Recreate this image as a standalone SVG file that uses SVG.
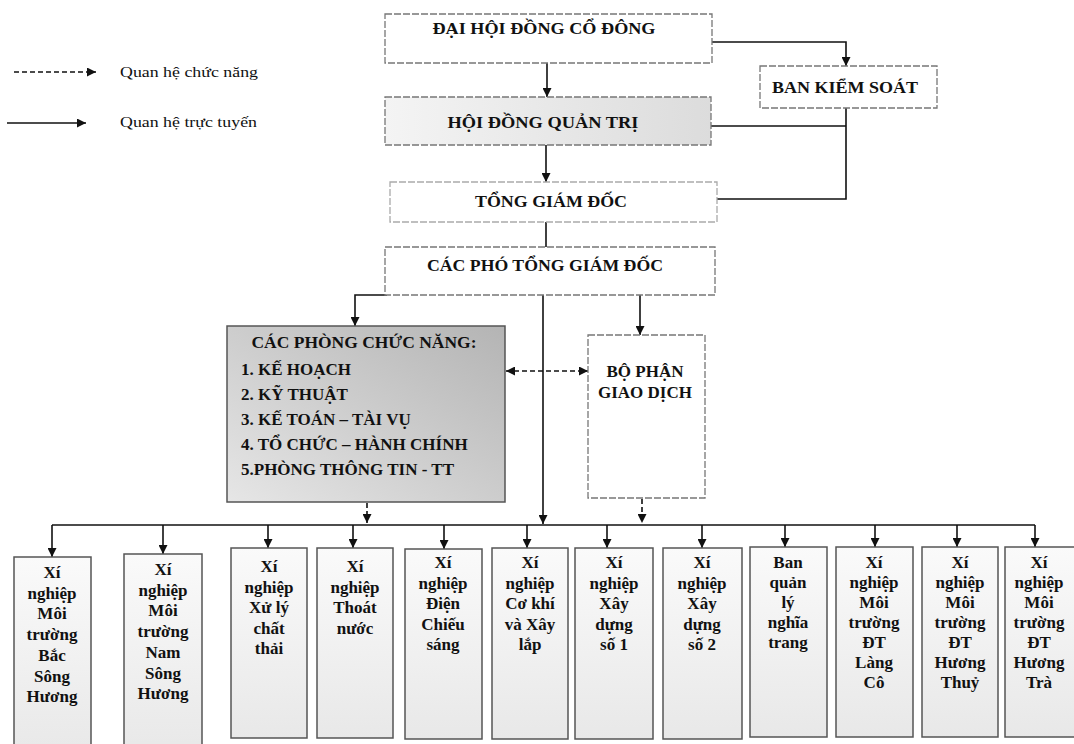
<svg xmlns="http://www.w3.org/2000/svg" width="1074" height="744" viewBox="0 0 1074 744">
<defs>
<marker id="ah" viewBox="0 0 10 10" refX="10" refY="5" markerWidth="9" markerHeight="9" markerUnits="userSpaceOnUse" orient="auto"><path d="M0 0 L10 5 L0 10 z" fill="#111"/></marker>
<marker id="ahs" viewBox="0 0 10 10" refX="0" refY="5" markerWidth="9" markerHeight="9" markerUnits="userSpaceOnUse" orient="auto"><path d="M10 0 L0 5 L10 10 z" fill="#111"/></marker>
<linearGradient id="gq" x1="0" y1="0" x2="1" y2="0"><stop offset="0" stop-color="#f4f4f4"/><stop offset="1" stop-color="#dcdcdc"/></linearGradient>
<linearGradient id="gp" x1="0" y1="1" x2="1" y2="0"><stop offset="0" stop-color="#e6e6e6"/><stop offset="1" stop-color="#b4b4b4"/></linearGradient>
<linearGradient id="gb" x1="0" y1="0" x2="0" y2="1"><stop offset="0" stop-color="#fafafa"/><stop offset="1" stop-color="#e8e8e8"/></linearGradient>
</defs>
<style>
.box{fill:#fff;stroke:#777;stroke-width:1.3;stroke-dasharray:7 2}
.bb{fill:url(#gb);stroke:#555;stroke-width:1.5}
.t{font-family:"Liberation Serif","Times New Roman",serif;font-weight:bold;fill:#111}
.h{font-size:17px;text-anchor:middle}
.s{font-size:17px;text-anchor:middle}
.lg{font-family:"Liberation Serif","Times New Roman",serif;font-size:15px;fill:#111}
.c{fill:none;stroke:#111;stroke-width:1.6}
.d{fill:none;stroke:#111;stroke-width:1.6;stroke-dasharray:5 3}
</style>
<rect width="1074" height="744" fill="#fff"/>
<g id="legend">
<line class="d" x1="14" y1="72" x2="96" y2="72" marker-end="url(#ah)"/>
<text class="lg" x="120" y="77" textLength="138" lengthAdjust="spacingAndGlyphs">Quan hệ chức năng</text>
<line class="c" x1="7" y1="123" x2="86" y2="123" marker-end="url(#ah)"/>
<text class="lg" x="120" y="127" textLength="137" lengthAdjust="spacingAndGlyphs">Quan hệ trực tuyến</text>
</g>
<g id="connectors">
<line class="c" x1="547" y1="63" x2="547" y2="97" marker-end="url(#ah)"/>
<path class="c" d="M712 42 H846 V66" marker-end="url(#ah)"/>
<line class="c" x1="546" y1="145" x2="546" y2="182" marker-end="url(#ah)"/>
<path class="c" d="M711 126 H846"/>
<path class="c" d="M846 108 V199 H717"/>
<line class="c" x1="546" y1="222" x2="546" y2="247"/>
<path class="c" d="M387 295 H355 V326" marker-end="url(#ah)"/>
<line class="c" x1="543" y1="295" x2="543" y2="524" marker-end="url(#ah)"/>
<line class="c" x1="640" y1="295" x2="640" y2="335" marker-end="url(#ah)"/>
<line class="d" x1="506" y1="371" x2="588" y2="371" marker-start="url(#ahs)" marker-end="url(#ah)"/>
<line class="d" x1="367" y1="503" x2="367" y2="523" marker-end="url(#ah)"/>
<line class="d" x1="642" y1="499" x2="642" y2="523" marker-end="url(#ah)"/>
<path class="c" d="M52 525 H1035"/>
<line class="c" x1="52" y1="525" x2="52" y2="557" marker-end="url(#ah)"/>
<line class="c" x1="163" y1="525" x2="163" y2="554" marker-end="url(#ah)"/>
<line class="c" x1="268" y1="525" x2="268" y2="548" marker-end="url(#ah)"/>
<line class="c" x1="353" y1="525" x2="353" y2="548" marker-end="url(#ah)"/>
<line class="c" x1="444" y1="525" x2="444" y2="549" marker-end="url(#ah)"/>
<line class="c" x1="527" y1="525" x2="527" y2="548" marker-end="url(#ah)"/>
<line class="c" x1="607" y1="525" x2="607" y2="548" marker-end="url(#ah)"/>
<line class="c" x1="702" y1="525" x2="702" y2="548" marker-end="url(#ah)"/>
<line class="c" x1="785" y1="525" x2="785" y2="547" marker-end="url(#ah)"/>
<line class="c" x1="875" y1="525" x2="875" y2="547" marker-end="url(#ah)"/>
<line class="c" x1="957" y1="525" x2="957" y2="547" marker-end="url(#ah)"/>
<line class="c" x1="1035" y1="525" x2="1035" y2="547" marker-end="url(#ah)"/>
</g>
<g id="dhdcd"><rect class="box" x="385" y="14" width="327" height="49"/><text class="t h" x="544" y="34" textLength="223" lengthAdjust="spacingAndGlyphs">ĐẠI HỘI ĐỒNG CỔ ĐÔNG</text></g>
<g id="bks"><rect class="box" x="760" y="66" width="177" height="42"/><text class="t h" x="845" y="93" textLength="146" lengthAdjust="spacingAndGlyphs">BAN KIỂM SOÁT</text></g>
<g id="hdqt"><rect class="box" x="385" y="97" width="326" height="48" style="fill:url(#gq)"/><text class="t h" x="543" y="128" textLength="191" lengthAdjust="spacingAndGlyphs">HỘI ĐỒNG QUẢN TRỊ</text></g>
<g id="tgd"><rect class="box" x="390" y="182" width="327" height="40" style="stroke:#aaa"/><text class="t h" x="551" y="207" textLength="152" lengthAdjust="spacingAndGlyphs">TỔNG GIÁM ĐỐC</text></g>
<g id="ptgd"><rect class="box" x="385" y="247" width="330" height="48"/><text class="t h" x="545" y="271" textLength="236" lengthAdjust="spacingAndGlyphs">CÁC PHÓ TỔNG GIÁM ĐỐC</text></g>
<g id="cacphong"><rect x="227" y="326" width="278" height="176" fill="url(#gp)" stroke="#555" stroke-width="1.5"/>
<text class="t" font-size="17" text-anchor="middle" x="364" y="348" textLength="225" lengthAdjust="spacingAndGlyphs">CÁC PHÒNG CHỨC NĂNG:</text>
<text class="t" font-size="17" x="241" y="375">1. KẾ HOẠCH</text>
<text class="t" font-size="17" x="241" y="400">2. KỸ THUẬT</text>
<text class="t" font-size="17" x="241" y="425">3. KẾ TOÁN – TÀI VỤ</text>
<text class="t" font-size="17" x="241" y="450">4. TỔ CHỨC – HÀNH CHÍNH</text>
<text class="t" font-size="17" x="241" y="475">5.PHÒNG THÔNG TIN - TT</text></g>
<g id="bophan"><rect class="box" x="588" y="335" width="117" height="163"/><text class="t h" x="645" y="377">BỘ PHẬN</text><text class="t h" x="645" y="398">GIAO DỊCH</text></g>
<g id="xn1"><rect class="bb" x="14" y="557" width="77" height="200"/><text class="t s"><tspan x="52" y="578">Xí</tspan><tspan x="52" dy="20.7">nghiệp</tspan><tspan x="52" dy="20.7">Môi</tspan><tspan x="52" dy="20.7">trường</tspan><tspan x="52" dy="20.7">Bắc</tspan><tspan x="52" dy="20.7">Sông</tspan><tspan x="52" dy="20.7">Hương</tspan></text></g>
<g id="xn2"><rect class="bb" x="124" y="554" width="78" height="200"/><text class="t s"><tspan x="163" y="575">Xí</tspan><tspan x="163" dy="20.7">nghiệp</tspan><tspan x="163" dy="20.7">Môi</tspan><tspan x="163" dy="20.7">trường</tspan><tspan x="163" dy="20.7">Nam</tspan><tspan x="163" dy="20.7">Sông</tspan><tspan x="163" dy="20.7">Hương</tspan></text></g>
<g id="xn3"><rect class="bb" x="231" y="548" width="76" height="190"/><text class="t s"><tspan x="269" y="572">Xí</tspan><tspan x="269" dy="20.5">nghiệp</tspan><tspan x="269" dy="20.5">Xử lý</tspan><tspan x="269" dy="20.5">chất</tspan><tspan x="269" dy="20.5">thải</tspan></text></g>
<g id="xn4"><rect class="bb" x="317" y="548" width="76" height="190"/><text class="t s"><tspan x="355" y="572">Xí</tspan><tspan x="355" dy="20.5">nghiệp</tspan><tspan x="355" dy="20.5">Thoát</tspan><tspan x="355" dy="20.5">nước</tspan></text></g>
<g id="xn5"><rect class="bb" x="405" y="549" width="77" height="190"/><text class="t s"><tspan x="443" y="568">Xí</tspan><tspan x="443" dy="20.5">nghiệp</tspan><tspan x="443" dy="20.5">Điện</tspan><tspan x="443" dy="20.5">Chiếu</tspan><tspan x="443" dy="20.5">sáng</tspan></text></g>
<g id="xn6"><rect class="bb" x="492" y="548" width="76" height="191"/><text class="t s"><tspan x="530" y="568">Xí</tspan><tspan x="530" dy="20.5">nghiệp</tspan><tspan x="530" dy="20.5">Cơ khí</tspan><tspan x="530" dy="20.5">và Xây</tspan><tspan x="530" dy="20.5">lắp</tspan></text></g>
<g id="xn7"><rect class="bb" x="575" y="548" width="78" height="191"/><text class="t s"><tspan x="614" y="568">Xí</tspan><tspan x="614" dy="20.5">nghiệp</tspan><tspan x="614" dy="20.5">Xây</tspan><tspan x="614" dy="20.5">dựng</tspan><tspan x="614" dy="20.5">số 1</tspan></text></g>
<g id="xn8"><rect class="bb" x="663" y="548" width="79" height="191"/><text class="t s"><tspan x="702" y="568">Xí</tspan><tspan x="702" dy="20.5">nghiệp</tspan><tspan x="702" dy="20.5">Xây</tspan><tspan x="702" dy="20.5">dựng</tspan><tspan x="702" dy="20.5">số 2</tspan></text></g>
<g id="bql"><rect class="bb" x="750" y="547" width="77" height="190"/><text class="t s"><tspan x="788" y="568">Ban</tspan><tspan x="788" dy="20">quản</tspan><tspan x="788" dy="20">lý</tspan><tspan x="788" dy="20">nghĩa</tspan><tspan x="788" dy="20">trang</tspan></text></g>
<g id="xn10"><rect class="bb" x="836" y="547" width="77" height="190"/><text class="t s"><tspan x="874" y="568">Xí</tspan><tspan x="874" dy="20">nghiệp</tspan><tspan x="874" dy="20">Môi</tspan><tspan x="874" dy="20">trường</tspan><tspan x="874" dy="20">ĐT</tspan><tspan x="874" dy="20">Làng</tspan><tspan x="874" dy="20">Cô</tspan></text></g>
<g id="xn11"><rect class="bb" x="922" y="547" width="76" height="190"/><text class="t s"><tspan x="960" y="568">Xí</tspan><tspan x="960" dy="20">nghiệp</tspan><tspan x="960" dy="20">Môi</tspan><tspan x="960" dy="20">trường</tspan><tspan x="960" dy="20">ĐT</tspan><tspan x="960" dy="20">Hương</tspan><tspan x="960" dy="20">Thuỷ</tspan></text></g>
<g id="xn12"><rect class="bb" x="1005" y="547" width="80" height="190"/><text class="t s"><tspan x="1039" y="568">Xí</tspan><tspan x="1039" dy="20">nghiệp</tspan><tspan x="1039" dy="20">Môi</tspan><tspan x="1039" dy="20">trường</tspan><tspan x="1039" dy="20">ĐT</tspan><tspan x="1039" dy="20">Hương</tspan><tspan x="1039" dy="20">Trà</tspan></text></g>
</svg>
